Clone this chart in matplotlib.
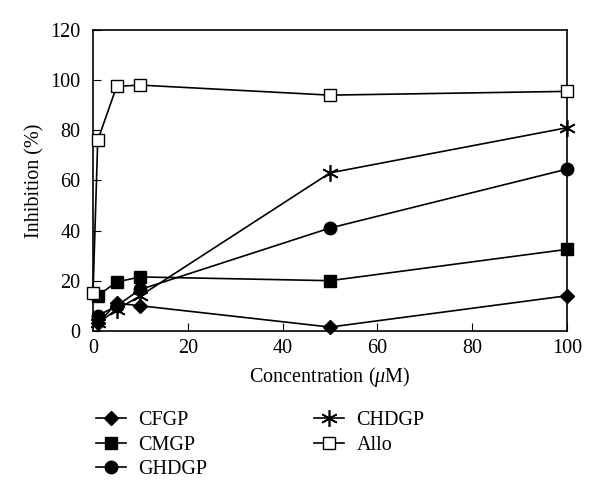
import matplotlib
matplotlib.use("Agg")
import matplotlib.pyplot as plt

conc = [0, 1, 5, 10, 50, 100]
conc_b = [1, 5, 10, 50, 100]
cfgp = [3, 11, 10, 1.5, 14]
cmgp = [14, 19.5, 21.5, 20, 32.5]
ghdgp = [6, 10, 16.5, 41, 64.5]
chdgp = [3, 8.5, 14, 63, 81]
allo = [15, 76, 97.5, 98, 94, 95.5]

plt.rcParams['font.family'] = ['Liberation Serif', 'DejaVu Serif']
plt.rcParams['mathtext.fontset'] = 'custom'
plt.rcParams['mathtext.it'] = 'Liberation Serif:italic'
fig = plt.figure(figsize=(6, 4.99), dpi=100)
ax = fig.add_axes([0.155, 0.337, 0.79, 0.603])

lw = 1.2
kw = dict(color='black', lw=lw, clip_on=False, zorder=3)
ax.plot(conc_b, cfgp, marker='D', ms=7, mfc='black', label='CFGP', **kw)
ax.plot(conc_b, cmgp, marker='s', ms=8, mfc='black', label='CMGP', **kw)
ax.plot(conc_b, ghdgp, marker='o', ms=9, mfc='black', label='GHDGP', **kw)
ax.plot(conc_b, chdgp, marker=(6, 2, 0), ms=12, mew=1.2, label='CHDGP', **kw)
ax.plot(conc, allo, marker='s', ms=9, mfc='white', mew=1.0, label='Allo', **kw)

ax.set_xlim(0, 100)
ax.set_ylim(0, 120)
ax.set_xticks([0, 20, 40, 60, 80, 100])
ax.set_yticks([0, 20, 40, 60, 80, 100, 120])
ax.tick_params(direction='in', labelsize=14.5, length=6, top=False, right=False)
ax.tick_params(axis='x', pad=6)
ax.tick_params(axis='y', pad=9)
for s in ax.spines.values():
    s.set_linewidth(1.2)
ax.set_xlabel('Concentration ($\\mathit{\\mu}$M)', fontsize=14.5, labelpad=5)
ax.set_ylabel('Inhibition (%)', fontsize=14.5, labelpad=4)

handles, labels = ax.get_legend_handles_labels()
fig.legend(handles, labels, ncol=2, loc='upper left', bbox_to_anchor=(0.13, 0.212),
           frameon=False, fontsize=14.5, handlelength=1.5, columnspacing=5.3,
           labelspacing=0.25, handletextpad=0.6)

fig.savefig('out.png', dpi=100)
